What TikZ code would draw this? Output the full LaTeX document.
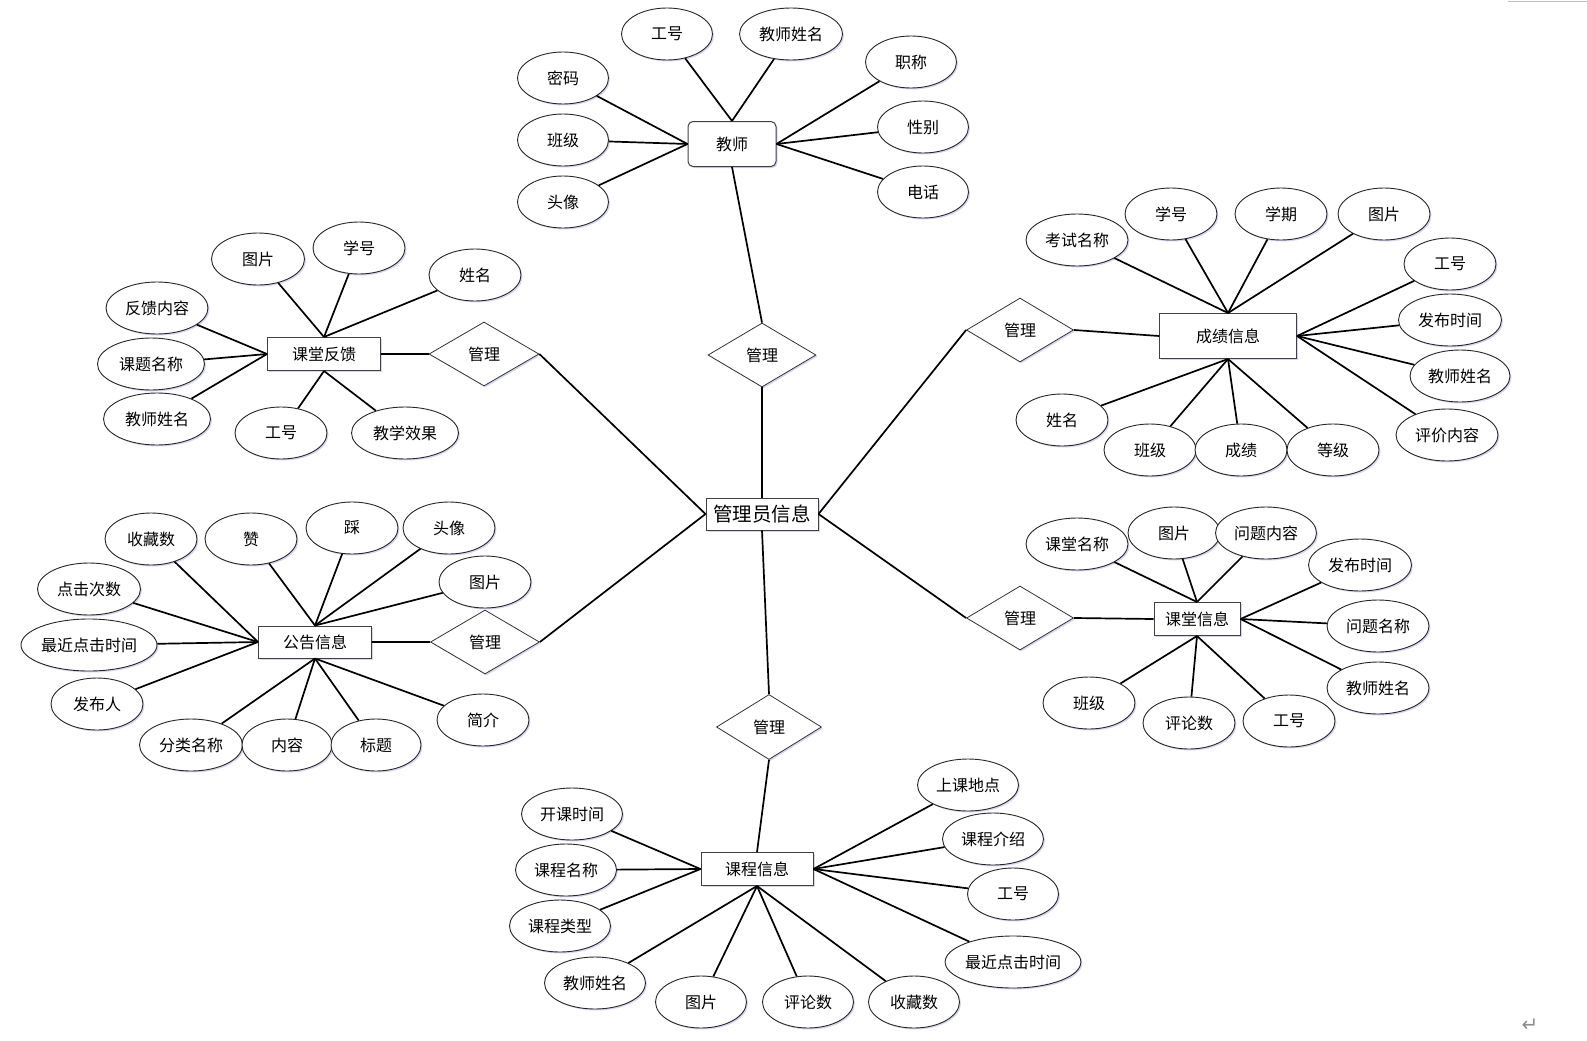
\documentclass[tikz,border=0pt]{standalone}
\usepackage{fontspec}
\setmainfont{Noto Sans CJK SC}
\newfontfamily\symfont{DejaVu Sans}
\usetikzlibrary{shapes.geometric,shadows}

\begin{document}
\begin{tikzpicture}[x=1pt,y=-1pt,
    font=\fontsize{16}{19}\selectfont,
    shadowed/.style={drop shadow={shadow xshift=1.5pt,shadow yshift=-1.5pt,
        fill=blue!45!gray,opacity=0.22}},
    attr/.style={ellipse,draw=black!85,line width=0.9pt,fill=white,
        inner sep=0pt,minimum width=#1,minimum height=52,shadowed},
    attr/.default=91,
    ent/.style={rectangle,draw=black!75,line width=1pt,fill=white,
        inner sep=0pt,minimum width=#1,minimum height=33,shadowed},
    ent/.default=113,
    rel/.style={diamond,draw=black!80,line width=0.8pt,fill=white,
        inner sep=0pt,minimum width=108,minimum height=64,shadowed},
    link/.style={line width=1.7pt}]

    \useasboundingbox (0,0) rectangle (1587,1041);

    % centre
    \node[ent=112,minimum height=32,font=\fontsize{19.5}{22}\selectfont] (admin) at (762,514) {管理员信息};

    % teacher
    \node[ent=88,minimum height=45,rounded corners=5pt] (tc) at (732,144) {教师};
    \node[attr] (tc1) at (667,34) {工号};
    \node[attr=103] (tc2) at (791,34) {教师姓名};
    \node[attr] (tc3) at (911,62) {职称};
    \node[attr] (tc4) at (923,127) {性别};
    \node[attr] (tc5) at (923,192) {电话};
    \node[attr] (tc6) at (563,78) {密码};
    \node[attr] (tc7) at (563,140) {班级};
    \node[attr] (tc8) at (563,202) {头像};
    \node[rel] (m1) at (762,355) {管理};

    \foreach \a in {tc1,tc2} \draw[link] (tc.north) -- (\a);
    \foreach \a in {tc3,tc4,tc5} \draw[link] (tc.east) -- (\a);
    \foreach \a in {tc6,tc7,tc8} \draw[link] (tc.west) -- (\a);
    \draw[link] (tc.south) -- (m1.north);
    \draw[link] (m1.south) -- (admin.north);

    % class feedback
    \node[ent] (fb) at (324,354) {课堂反馈};
    \node[attr=93] (fb1) at (258,259) {图片};
    \node[attr=92] (fb2) at (359,248) {学号};
    \node[attr=92] (fb3) at (475,275) {姓名};
    \node[attr=102] (fb4) at (157,308) {反馈内容};
    \node[attr=107] (fb5) at (151,364) {课题名称};
    \node[attr=107] (fb6) at (157,419) {教师姓名};
    \node[attr=92] (fb7) at (281,433) {工号};
    \node[attr=107] (fb8) at (405,433) {教学效果};
    \node[rel,minimum width=110] (m2) at (484,354) {管理};

    \foreach \a in {fb1,fb2,fb3} \draw[link] (fb.north) -- (\a);
    \foreach \a in {fb4,fb5,fb6} \draw[link] (fb.west) -- (\a);
    \foreach \a in {fb7,fb8} \draw[link] (fb.south) -- (\a);
    \draw[link] (fb.east) -- (m2.west);
    \draw[link] (m2.east) -- (admin.west);

    % notice
    \node[ent,minimum height=32] (nt) at (315,642) {公告信息};
    \node[attr=92] (nt1) at (151,539) {收藏数};
    \node[attr=92] (nt2) at (251,539) {赞};
    \node[attr=92] (nt3) at (352,528) {踩};
    \node[attr=92] (nt4) at (449,528) {头像};
    \node[attr=92] (nt5) at (485,582) {图片};
    \node[attr=103] (nt6) at (89,589) {点击次数};
    \node[attr=136] (nt7) at (89,645) {最近点击时间};
    \node[attr=92] (nt8) at (97,704) {发布人};
    \node[attr=103] (nt9) at (191,745) {分类名称};
    \node[attr=90] (nt10) at (287,745) {内容};
    \node[attr=90] (nt11) at (376,745) {标题};
    \node[attr=92] (nt12) at (483,720) {简介};
    \node[rel,minimum width=109] (m3) at (485,642) {管理};

    \foreach \a in {nt2,nt3,nt4,nt5} \draw[link] (nt.north) -- (\a);
    \foreach \a in {nt1,nt6,nt7,nt8} \draw[link] (nt.west) -- (\a);
    \foreach \a in {nt9,nt10,nt11,nt12} \draw[link] (nt.south) -- (\a);
    \draw[link] (nt.east) -- (m3.west);
    \draw[link] (m3.east) -- (admin.west);

    % scores
    \node[ent=137,minimum height=45] (sc) at (1228,336) {成绩信息};
    \node[attr=102] (sc1) at (1077,240) {考试名称};
    \node[attr=92] (sc2) at (1171,214) {学号};
    \node[attr=92] (sc3) at (1281,214) {学期};
    \node[attr=92] (sc4) at (1384,214) {图片};
    \node[attr=92] (sc5) at (1450,264) {工号};
    \node[attr=103] (sc6) at (1450,320) {发布时间};
    \node[attr=100] (sc7) at (1460,376) {教师姓名};
    \node[attr=102] (sc8) at (1447,435) {评价内容};
    \node[attr=92] (sc9) at (1062,420) {姓名};
    \node[attr=92] (sc10) at (1150,450) {班级};
    \node[attr=92] (sc11) at (1241,450) {成绩};
    \node[attr=92] (sc12) at (1333,450) {等级};
    \node[rel,minimum width=107] (m4) at (1020,330) {管理};

    \foreach \a in {sc1,sc2,sc3,sc4} \draw[link] (sc.north) -- (\a);
    \foreach \a in {sc5,sc6,sc7,sc8} \draw[link] (sc.east) -- (\a);
    \foreach \a in {sc9,sc10,sc11,sc12} \draw[link] (sc.south) -- (\a);
    \draw[link] (m4.east) -- (sc.west);
    \draw[link] (admin.east) -- (m4.west);

    % classroom
    \node[ent=86] (cr) at (1197,619) {课堂信息};
    \node[attr=102] (cr1) at (1077,544) {课堂名称};
    \node[attr=92] (cr2) at (1174,533) {图片};
    \node[attr=101] (cr3) at (1266,533) {问题内容};
    \node[attr=103] (cr4) at (1360,565) {发布时间};
    \node[attr=102] (cr5) at (1378,626) {问题名称};
    \node[attr=102] (cr6) at (1378,688) {教师姓名};
    \node[attr=92] (cr7) at (1089,703) {班级};
    \node[attr=92] (cr8) at (1189,723) {评论数};
    \node[attr=92] (cr9) at (1289,721) {工号};
    \node[rel,minimum width=107] (m5) at (1020,618) {管理};

    \foreach \a in {cr1,cr2,cr3} \draw[link] (cr.north) -- (\a);
    \foreach \a in {cr4,cr5,cr6} \draw[link] (cr.east) -- (\a);
    \foreach \a in {cr7,cr8,cr9} \draw[link] (cr.south) -- (\a);
    \draw[link] (m5.east) -- (cr.west);
    \draw[link] (admin.east) -- (m5.west);

    % courses
    \node[ent=112] (cs) at (757,869) {课程信息};
    \node[attr=101] (cs1) at (572,814) {开课时间};
    \node[attr=101] (cs2) at (566,870) {课程名称};
    \node[attr=101] (cs3) at (560,926) {课程类型};
    \node[attr=101] (cs4) at (595,983) {教师姓名};
    \node[attr=91] (cs5) at (701,1002) {图片};
    \node[attr=91] (cs6) at (808,1002) {评论数};
    \node[attr=91] (cs7) at (914,1002) {收藏数};
    \node[attr=101] (cs8) at (968,785) {上课地点};
    \node[attr=101] (cs9) at (993,839) {课程介绍};
    \node[attr=91] (cs10) at (1013,894) {工号};
    \node[attr=135] (cs11) at (1013,962) {最近点击时间};
    \node[rel,minimum width=105,minimum height=65] (m6) at (769,727) {管理};

    \foreach \a in {cs1,cs2,cs3} \draw[link] (cs.west) -- (\a);
    \foreach \a in {cs4,cs5,cs6,cs7} \draw[link] (cs.south) -- (\a);
    \foreach \a in {cs8,cs9,cs10,cs11} \draw[link] (cs.east) -- (\a);
    \draw[link] (admin.south) -- (m6.north);
    \draw[link] (m6.south) -- (cs.north);

    % page marks
    \draw[black!25,line width=0.8pt] (1508,1) -- (1587,1);
    \node[text=black!45,font=\symfont\fontsize{20}{22}\selectfont] (ret) at (1530,1025) {↵};
\end{tikzpicture}
\end{document}
